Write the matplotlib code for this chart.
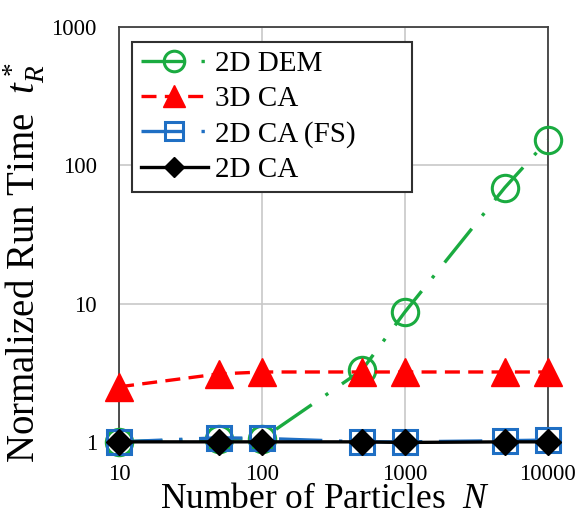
import matplotlib.pyplot as plt

plt.rcParams['font.family'] = ['Liberation Serif', 'DejaVu Serif']
plt.rcParams['mathtext.fontset'] = 'custom'
plt.rcParams['mathtext.rm'] = 'Liberation Serif'
plt.rcParams['mathtext.it'] = 'Liberation Serif:italic'

particles = [10, 50, 100, 500, 1000, 5000, 10000]
dem_2d = [1.0, 1.05, 1.05, 3.3, 8.7, 69, 152]
ca_3d = [2.5, 3.1, 3.2, 3.2, 3.2, 3.2, 3.2]
ca_2d_fs = [1.0, 1.07, 1.06, 1.0, 1.0, 1.02, 1.03]
ca_2d = [1.0, 1.0, 1.0, 1.0, 0.99, 1.0, 1.0]

x_ticks = [10, 100, 1000, 10000]
y_ticks = [1, 10, 100, 1000]


def make_runtime_plot():
    fig = plt.figure(figsize=(5.81, 5.18), dpi=100)
    ax = fig.add_axes([0.205, 0.147, 0.738, 0.801])

    ax.plot(particles, dem_2d, color='#1aab40', linewidth=2.4,
            linestyle=(0, (13, 5, 1, 5)), marker='o', markersize=19,
            markerfacecolor='none', markeredgewidth=2.2, label='2D DEM',
            zorder=3, clip_on=False)
    ax.plot(particles, ca_3d, color='#ff0000', linewidth=2.4,
            linestyle=(0, (4.5, 2.5)), marker='^', markersize=20,
            label='3D CA', zorder=4, clip_on=False)
    ax.plot(particles, ca_2d_fs, color='#1f6fc4', linewidth=2.4,
            linestyle=(0, (13, 5, 1, 5)), marker='s', markersize=17,
            markerfacecolor='none', markeredgewidth=2.2, label='2D CA (FS)',
            zorder=5, clip_on=False)
    ax.plot(particles, ca_2d, color='black', linewidth=2.4, marker='D',
            markersize=13.5, label='2D CA', zorder=6, clip_on=False)

    ax.set_xscale('log')
    ax.set_yscale('log')
    ax.set_xlim(10, 10000)
    ax.set_ylim(1, 1000)
    ax.set_xticks(x_ticks)
    ax.set_xticklabels([str(v) for v in x_ticks])
    ax.set_yticks(y_ticks)
    ax.set_yticklabels([str(v) for v in y_ticks])
    ax.minorticks_off()
    ax.tick_params(axis='both', length=0, labelsize=16.5)
    ax.tick_params(axis='x', pad=16)
    ax.tick_params(axis='y', pad=16)
    ax.grid(True, color='#c8c8c8', linewidth=1.2)
    ax.set_axisbelow(True)
    for spine in ax.spines.values():
        spine.set_color('#404040')
        spine.set_linewidth(1.3)

    ax.set_xlabel('Number of Particles  $N$', fontsize=25.5)
    ax.set_ylabel('Normalized Run Time  $t_R^*$', fontsize=28)
    ax.xaxis.set_label_coords(0.48, -0.10)
    ax.yaxis.set_label_coords(-0.168, 0.431)

    # legend box stretched to the same width as the original
    leg = ax.legend(loc='upper left', bbox_to_anchor=(0.03, 0.5, 0.653, 0.464),
                    mode='expand', borderaxespad=0, fontsize=21,
                    handlelength=2.3, handletextpad=0.25, borderpad=0.3,
                    labelspacing=0.3, fancybox=False, framealpha=1,
                    markerscale=0.78)
    leg.get_frame().set_edgecolor('#303030')
    leg.get_frame().set_linewidth(1.5)

    plt.savefig('out.png', dpi=100)


def main():
    make_runtime_plot()


if __name__ == "__main__":
    main()
